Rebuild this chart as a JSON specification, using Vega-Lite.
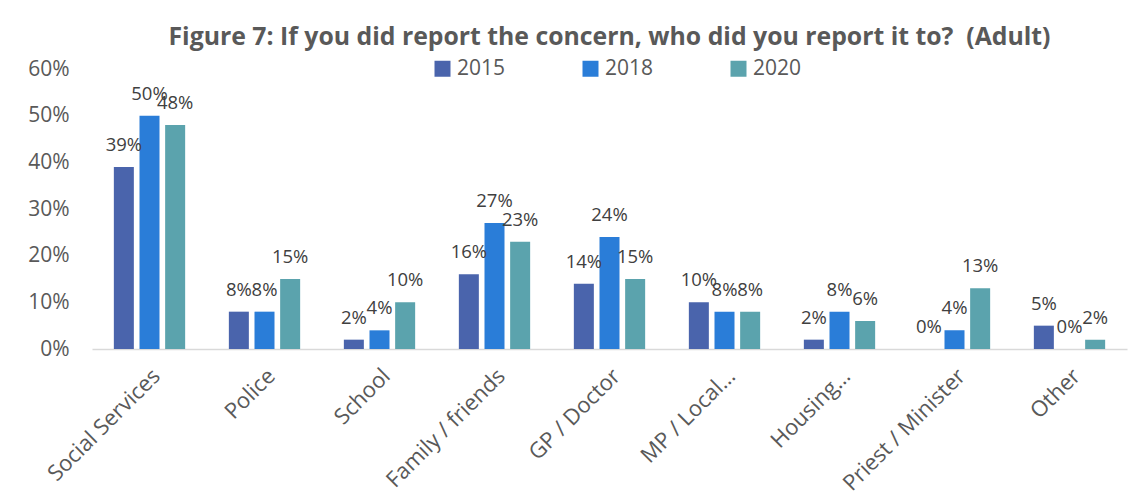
{
  "$schema": "https://vega.github.io/schema/vega-lite/v6.json",
  "width": 1035,
  "height": 280,
  "autosize": {"type": "none"},
  "padding": {"left": 92, "top": 69, "right": 14, "bottom": 146},
  "background": "white",
  "config": {
    "font": "Open Sans",
    "view": {"stroke": null},
    "axis": {"labelColor": "#595959", "labelFont": "Open Sans", "labelFontSize": 21, "titleColor": "#595959"},
    "legend": {"labelColor": "#595959", "labelFont": "Open Sans", "labelFontSize": 21}
  },
  "title": {
    "text": "Figure 7: If you did report the concern, who did you report it to?\u00a0 (Adult)",
    "font": "Open Sans",
    "fontSize": 24.8,
    "fontWeight": "bold",
    "color": "#595959",
    "anchor": "middle",
    "offset": 8
  },
  "data": {
    "values": [
      {"cat": "Social Services", "year": "2015", "v": 0.39},
      {"cat": "Social Services", "year": "2018", "v": 0.50},
      {"cat": "Social Services", "year": "2020", "v": 0.48},
      {"cat": "Police", "year": "2015", "v": 0.08},
      {"cat": "Police", "year": "2018", "v": 0.08},
      {"cat": "Police", "year": "2020", "v": 0.15},
      {"cat": "School", "year": "2015", "v": 0.02},
      {"cat": "School", "year": "2018", "v": 0.04},
      {"cat": "School", "year": "2020", "v": 0.10},
      {"cat": "Family / friends", "year": "2015", "v": 0.16},
      {"cat": "Family / friends", "year": "2018", "v": 0.27},
      {"cat": "Family / friends", "year": "2020", "v": 0.23},
      {"cat": "GP / Doctor", "year": "2015", "v": 0.14},
      {"cat": "GP / Doctor", "year": "2018", "v": 0.24},
      {"cat": "GP / Doctor", "year": "2020", "v": 0.15},
      {"cat": "MP / Local…", "year": "2015", "v": 0.10},
      {"cat": "MP / Local…", "year": "2018", "v": 0.08},
      {"cat": "MP / Local…", "year": "2020", "v": 0.08},
      {"cat": "Housing…", "year": "2015", "v": 0.02},
      {"cat": "Housing…", "year": "2018", "v": 0.08},
      {"cat": "Housing…", "year": "2020", "v": 0.06},
      {"cat": "Priest / Minister", "year": "2015", "v": 0.00},
      {"cat": "Priest / Minister", "year": "2018", "v": 0.04},
      {"cat": "Priest / Minister", "year": "2020", "v": 0.13},
      {"cat": "Other", "year": "2015", "v": 0.05},
      {"cat": "Other", "year": "2018", "v": 0.00},
      {"cat": "Other", "year": "2020", "v": 0.02}
    ]
  },
  "encoding": {
    "x": {
      "field": "cat",
      "type": "nominal",
      "sort": null,
      "scale": {"paddingInner": 0.38, "paddingOuter": 0.19},
      "axis": {
        "title": null,
        "labelAngle": -45,
        "labelFontSize": 22,
        "labelPadding": 16,
        "ticks": false,
        "domainColor": "#D9D9D9",
        "domainWidth": 1.5
      }
    },
    "xOffset": {"field": "year", "type": "nominal", "scale": {"paddingInner": 0.22, "paddingOuter": 0}},
    "y": {
      "field": "v",
      "type": "quantitative",
      "scale": {"domain": [0, 0.6]},
      "axis": {
        "title": null,
        "format": ".0%",
        "values": [0, 0.1, 0.2, 0.3, 0.4, 0.5, 0.6],
        "grid": false,
        "domain": false,
        "ticks": false,
        "labelPadding": 23
      }
    }
  },
  "layer": [
    {
      "mark": {"type": "bar"},
      "encoding": {
        "color": {
          "field": "year",
          "type": "nominal",
          "scale": {"domain": ["2015", "2018", "2020"], "range": ["#4A64AC", "#2A7DD8", "#5BA3AD"]},
          "legend": {
            "title": null,
            "orient": "none",
            "direction": "horizontal",
            "legendX": 340,
            "legendY": -11,
            "symbolType": "square",
            "symbolSize": 256,
            "symbolStrokeWidth": 0,
            "columnPadding": 74,
            "labelOffset": 4
          }
        }
      }
    },
    {
      "mark": {"type": "text", "baseline": "alphabetic", "dy": -16, "fontSize": 18.5, "color": "#404040", "font": "Open Sans"},
      "encoding": {
        "text": {"field": "v", "type": "quantitative", "format": ".0%"}
      }
    }
  ]
}
